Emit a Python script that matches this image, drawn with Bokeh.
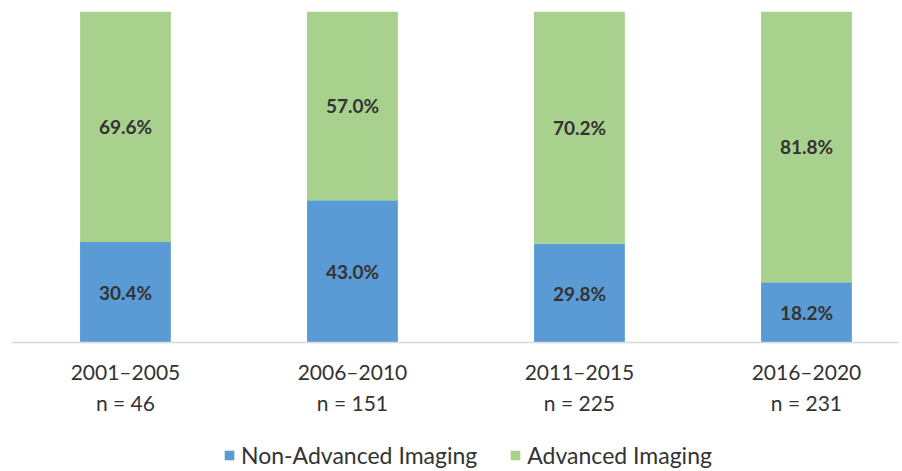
from bokeh.plotting import figure
from bokeh.models import ColumnDataSource, Range1d, Legend, LegendItem, FixedTicker
from bokeh.core.properties import value
from bokeh.embed import file_html
from bokeh.resources import INLINE

periods = ["2001–2005", "2006–2010", "2011–2015", "2016–2020"]
ns = [46, 151, 225, 231]
non_advanced = [30.4, 43.0, 29.8, 18.2]
advanced = [69.6, 57.0, 70.2, 81.8]

BLUE = "#5B9BD5"
GREEN = "#A9D18E"
TXT = "#333333"
FONT = "Lato"

xs = list(range(len(periods)))
src = ColumnDataSource(dict(
    x=xs,
    non=non_advanced,
    adv=advanced,
    non_mid=[v / 2 for v in non_advanced],
    adv_mid=[n + a / 2 for n, a in zip(non_advanced, advanced)],
    non_lbl=[f"{v:.1f}%" for v in non_advanced],
    adv_lbl=[f"{v:.1f}%" for v in advanced],
))

FRAME_H = 458
FRAME_W = 888
PX_PER_PCT = 3.31
PX_PER_CAT = 227.0
X0 = -0.502
p = figure(frame_width=FRAME_W, frame_height=FRAME_H, output_backend="svg", toolbar_location=None,
           x_range=Range1d(X0, X0 + FRAME_W / PX_PER_CAT),
           y_range=Range1d(100 - FRAME_H / PX_PER_PCT, 100),
           min_border_left=11, min_border_right=0, min_border_top=11, min_border_bottom=0)
p.outline_line_color = None
p.grid.visible = False
p.yaxis.visible = False

r = p.vbar_stack(["non", "adv"], x="x", width=0.40, source=src,
                 color=[BLUE, GREEN], line_color=None)

p.text(x="x", y="non_mid", text="non_lbl", source=src, text_align="center",
       text_baseline="middle", text_font=value(FONT), text_font_style="bold",
       text_font_size="19px", text_color=TXT)
p.text(x="x", y="adv_mid", text="adv_lbl", source=src, text_align="center",
       text_baseline="middle", text_font=value(FONT), text_font_style="bold",
       text_font_size="19px", text_color=TXT)

ax = p.xaxis[0]
ax.fixed_location = 0
ax.ticker = FixedTicker(ticks=xs)
ax.major_label_overrides = {i: f"{periods[i]}\nn = {ns[i]}" for i in xs}
ax.major_tick_line_color = None
ax.minor_tick_line_color = None
ax.axis_line_color = "#D9D9D9"
ax.axis_line_width = 1.5
ax.major_label_text_font = FONT
ax.major_label_text_font_size = "21px"
ax.major_label_text_color = TXT
ax.major_label_text_line_height = 1.25
ax.major_label_standoff = 10

legend = Legend(items=[LegendItem(label="Non-Advanced Imaging", renderers=[r[0]]),
                       LegendItem(label="Advanced Imaging", renderers=[r[1]])],
                orientation="horizontal", location=(212, 0),
                label_text_font=FONT, label_text_font_size="23px",
                label_text_color=TXT, glyph_width=12, glyph_height=12,
                label_height=24, spacing=32, label_standoff=6,
                border_line_color=None, background_fill_alpha=0,
                margin=0, padding=0)
p.add_layout(legend, "center")

open("out.html", "w").write(file_html(p, INLINE))
